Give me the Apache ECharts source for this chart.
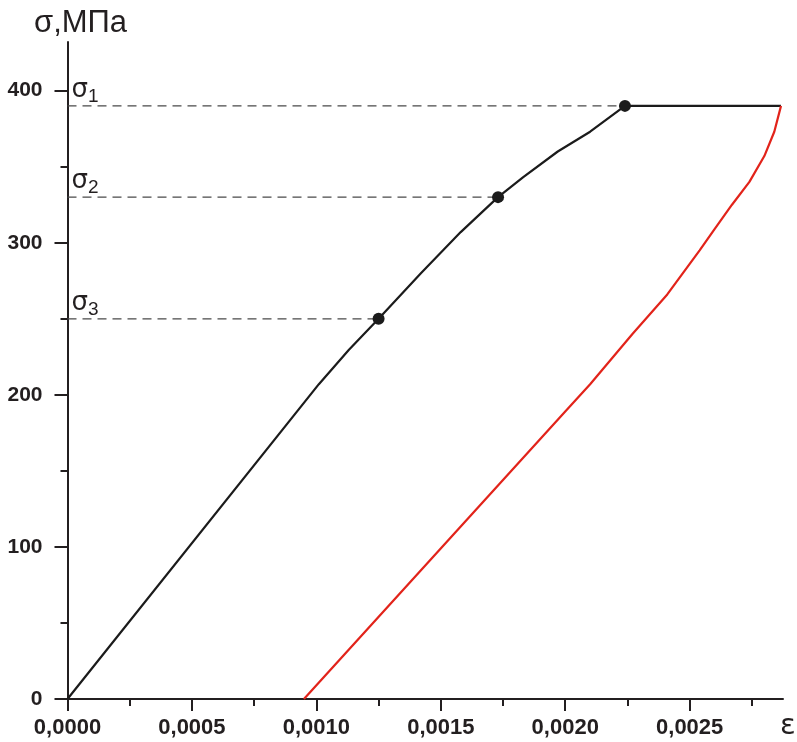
<!DOCTYPE html>
<html>
<head>
<meta charset="utf-8">
<script src="https://cdn.jsdelivr.net/npm/echarts@6/dist/echarts.min.js"></script>
<style>
  html, body { margin: 0; padding: 0; background: #fff; }
  #chart { width: 797px; height: 742px; }
</style>
</head>
<body>
<div id="chart"></div>
<script>
// Loading branch (strain, stress in MPa)
const loadingCurve = [
  [0, 0], [0.00101, 207], [0.00113, 229.5], [0.00125, 250], [0.00142, 280],
  [0.00158, 307], [0.00173, 330], [0.00183, 343], [0.00197, 360],
  [0.00210, 373], [0.00224, 390], [0.002867, 390]
];
// Unloading branch
const unloadingCurve = [
  [0.00095, 0], [0.00200, 189], [0.00210, 207], [0.00227, 240], [0.00241, 266],
  [0.00254, 295], [0.00260, 309], [0.00267, 325], [0.00274, 340],
  [0.00280, 357], [0.00284, 373], [0.002867, 390]
];
// Marked stress levels σ1, σ2, σ3
const levelNames = ['1', '2', '3'];
const levelStress = [390, 330, 250];
const levelStrain = [0.00224, 0.00173, 0.00125];
const levelLineEnd = [0.002867, 0.00173, 0.00125];

const xMajorTicks = [0, 0.0005, 0.0010, 0.0015, 0.0020, 0.0025];
const xMinorTicks = [0.00025, 0.00075, 0.00125, 0.00175, 0.00225, 0.00275];
const yMajorTicks = [0, 100, 200, 300, 400];
const yMinorTicks = [50, 150, 250, 350];

const X_MAX = 0.002875;
const Y_MAX = 432;
const INK = '#231f20';

const chart = echarts.init(document.getElementById('chart'), null, { renderer: 'canvas' });

const dashedSeries = levelNames.map((n, i) => ({
  type: 'line',
  data: [[0, levelStress[i]], [levelLineEnd[i], levelStress[i]]],
  symbol: 'none',
  silent: true,
  z: 1,
  lineStyle: { color: '#4a4a4a', width: 1.2, type: [9, 6] }
}));

chart.setOption({
  animation: false,
  backgroundColor: '#fff',
  grid: { left: 67.5, right: 14, top: 42, bottom: 43, containLabel: false },
  xAxis: [
    {
      type: 'value', min: 0, max: X_MAX,
      axisLine: { show: true, lineStyle: { color: INK, width: 2 } },
      axisTick: { show: true, customValues: xMajorTicks, length: 12, lineStyle: { color: INK, width: 2 } },
      axisLabel: {
        show: true, customValues: xMajorTicks, margin: 18,
        fontFamily: 'Liberation Sans', fontWeight: 'bold', fontSize: 22, color: INK,
        formatter: v => v.toFixed(4).replace('.', ',')
      },
      splitLine: { show: false }
    },
    {
      type: 'value', min: 0, max: X_MAX, position: 'bottom', gridIndex: 0,
      axisLine: { show: false },
      axisTick: { show: true, customValues: xMinorTicks, length: 7, lineStyle: { color: INK, width: 2 } },
      axisLabel: { show: false },
      splitLine: { show: false }
    }
  ],
  yAxis: [
    {
      type: 'value', min: 0, max: Y_MAX,
      axisLine: { show: true, lineStyle: { color: INK, width: 2 } },
      axisTick: { show: true, customValues: yMajorTicks, length: 13, lineStyle: { color: INK, width: 2 } },
      axisLabel: {
        show: true, customValues: yMajorTicks, margin: 25,
        fontFamily: 'Liberation Sans', fontWeight: 'bold', fontSize: 21, color: INK
      },
      splitLine: { show: false }
    },
    {
      type: 'value', min: 0, max: Y_MAX, position: 'left', gridIndex: 0,
      axisLine: { show: false },
      axisTick: { show: true, customValues: yMinorTicks, length: 7, lineStyle: { color: INK, width: 2 } },
      axisLabel: { show: false },
      splitLine: { show: false }
    }
  ],
  graphic: [
    {
      type: 'text', left: 34, top: 8,
      style: { text: 'σ,МПа', font: '31px "Liberation Sans"', fill: INK }
    },
    {
      type: 'text', left: 780, top: 712,
      style: { text: 'ε', font: '29px "DejaVu Sans"', fill: INK }
    }
  ],
  series: [
    ...dashedSeries,
    {
      type: 'line', data: loadingCurve, symbol: 'none', z: 3,
      lineStyle: { color: '#1b1b1b', width: 2.2 }
    },
    {
      type: 'line', data: unloadingCurve, symbol: 'none', z: 3,
      lineStyle: { color: '#e2231a', width: 2.2 }
    },
    {
      type: 'scatter', z: 4,
      data: levelStrain.map((e, i) => [e, levelStress[i]]),
      symbol: 'circle', symbolSize: 12,
      itemStyle: { color: '#1b1b1b', opacity: 1 }
    },
    {
      type: 'scatter', z: 5, silent: true,
      data: levelStress.map((s, i) => ({ value: [0, s], name: levelNames[i] })),
      symbolSize: 0,
      itemStyle: { opacity: 1 },
      label: {
        show: true,
        position: [4, -29],
        formatter: p => '{g|σ}{s|' + p.name + '}',
        rich: {
          g: { fontFamily: 'DejaVu Sans', fontSize: 26, color: INK, verticalAlign: 'bottom', padding: [0, 0, 3, 0] },
          s: { fontFamily: 'Liberation Sans', fontSize: 19, color: INK, verticalAlign: 'bottom' }
        }
      }
    }
  ]
});
</script>
</body>
</html>
